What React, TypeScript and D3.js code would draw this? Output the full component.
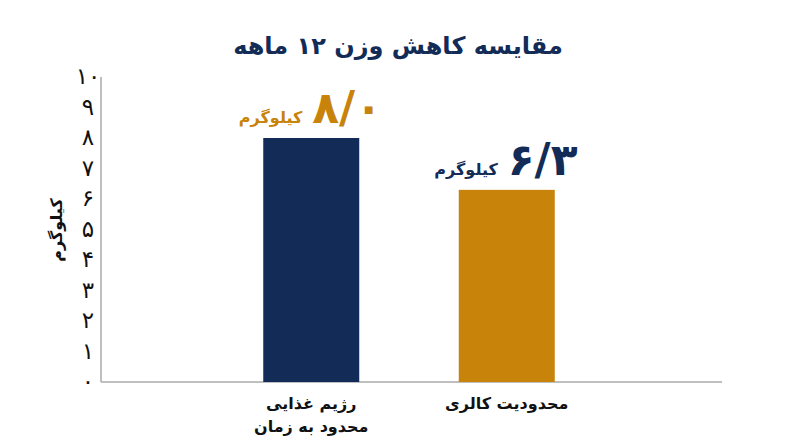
import React from "react";
import * as d3 from "d3";

const title = "مقایسه کاهش وزن ۱۲ ماهه";
const categories = ["tre", "cr"];
const categoryLines = [["رژیم غذایی", "محدود به زمان"], ["محدودیت کالری"]];
const values = [8.0, 6.3];
const valueLabels = ["۸/۰", "۶/۳"];
const unitLabel = "کیلوگرم";
const barColors = ["#132c57", "#c8830b"];
const labelColors = ["#c8830b", "#132c57"];
const yTicks = [0, 1, 2, 3, 4, 5, 6, 7, 8, 9, 10];
const yTickLabels = ["۰", "۱", "۲", "۳", "۴", "۵", "۶", "۷", "۸", "۹", "۱۰"];
const yTitle = "کیلوگرم";

const W = 800, H = 447;
const FONT = "'DejaVu Sans', 'Noto Sans', sans-serif";

export default function App() {
  const y = d3.scaleLinear().domain([0, 10]).range([382, 77]);
  const x = d3.scaleBand<string>().domain(categories).range([213.5, 604.5]).paddingInner(0.51).paddingOuter(0.255);
  const bw = 96;
  return (
    <svg width={W} height={H} style={{ position: "absolute", left: 0, top: 0, background: "#fff" }} fontFamily={FONT}>
      <rect width={W} height={H} fill="#fff" />
      <text x={398} y={54} textAnchor="middle" fontSize={24} fontWeight="bold" fill="#132c57">{title}</text>
      {/* axes */}
      <line x1={101} x2={101} y1={y(10)} y2={y(0)} stroke="#aaaaaa" strokeWidth={1.5} />
      <line x1={101} x2={722} y1={y(0)} y2={y(0)} stroke="#aaaaaa" strokeWidth={1.5} />
      {yTicks.map((t, i) => (
        <text key={t} x={88} y={y(t) + 7} textAnchor="middle" fontSize={23} fill="#111">{yTickLabels[i]}</text>
      ))}
      <text transform={`translate(62,230) rotate(-90)`} textAnchor="middle" fontSize={16} fontWeight="bold" fill="#111">{yTitle}</text>
      {categories.map((c, i) => {
        const cx = (x(c) as number) + x.bandwidth() / 2;
        const top = y(values[i]);
        return (
          <g key={c}>
            <rect x={cx - bw / 2} y={top} width={bw} height={y(0) - top} fill={barColors[i]} />
            <text x={cx + 1} y={top - 15} textAnchor="start" fontSize={44} fontWeight="bold" fill={labelColors[i]}>{valueLabels[i]}</text>
            <text x={cx - 9} y={top - 15} textAnchor="end" fontSize={16} fontWeight="bold" fill={labelColors[i]}>{unitLabel}</text>
            {categoryLines[i].map((line, j) => (
              <text key={j} x={cx} y={409 + j * 23} textAnchor="middle" fontSize={16} fontWeight="bold" fill="#111">{line}</text>
            ))}
          </g>
        );
      })}
    </svg>
  );
}
